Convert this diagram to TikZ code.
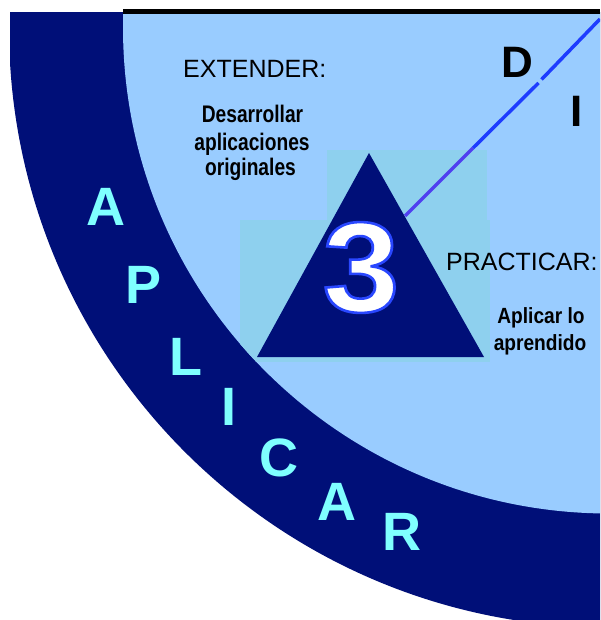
\documentclass[tikz,border=0pt]{standalone}
\usepackage{graphicx}
\usepackage{fontspec}
\setmainfont{Liberation Sans}
\definecolor{ringnavy}{HTML}{000F78}
\definecolor{lightbg}{HTML}{99CCFF}
\definecolor{boxbg}{HTML}{8ED0EE}
\definecolor{letcyan}{HTML}{7FFFFF}
\definecolor{lineblue}{HTML}{1E3CFF}
\definecolor{linepurple}{HTML}{5040F0}
\newcommand\numoutline[1]{\textcolor{white}{%
\special{pdf:literal direct q 2 Tr 2.6 w 0.16 0.28 1 RG 1 1 1 rg}#1\special{pdf:literal direct Q}}}
\newcommand\narrowtext[2]{\scalebox{#1}[1]{#2}}
\tikzset{
  ringletter/.style={text=letcyan, inner sep=0pt, font=\bfseries\fontsize{54}{54}\selectfont},
  diletter/.style={text=black, inner sep=0pt, font=\bfseries\fontsize{44}{44}\selectfont},
  heading/.style={anchor=base west, inner sep=0pt, font=\fontsize{25}{25}\selectfont},
  boldnote/.style={anchor=base, inner sep=0pt, font=\bfseries\fontsize{24}{24}\selectfont},
  connector/.style={line width=3.5pt}
}
\begin{document}
\begin{tikzpicture}[x=1pt,y=-1pt]
\useasboundingbox (0,0) rectangle (600,620);
\clip (0,0) rectangle (600,620);
\fill[white] (0,0) rectangle (600,620);
% dark ring
\begin{scope}
  \clip (10,13) rectangle (600,620);
  \fill[ringnavy] (609,27.5) circle[radius=600pt];
\end{scope}
% light interior with lighter box
\begin{scope}
  \clip (10,14.5) rectangle (600,620);
  \clip (609,27.5) circle[radius=486pt];
  \fill[lightbg] (0,0) rectangle (600,620);
  \fill[boxbg] (327,150) rectangle (487,362);
  \fill[boxbg] (240,220) rectangle (490,362);
\end{scope}
% top black bar
\fill[black] (123,9.5) rectangle (600,14.5);
% triangle
\fill[ringnavy] (257,357) -- (369,153) -- (484,357) -- cycle;
\coordinate (l0) at (405,216);
\coordinate (l1) at (473,148);
\coordinate (l2) at (538.5,83);
\coordinate (l3) at (541.5,79.5);
\coordinate (l4) at (600,19);
\draw[connector, linepurple] (l0) -- (l1);
\draw[connector, lineblue] (l1) -- (l2);
\draw[connector, lineblue] (l3) -- (l4);
% number
\node[inner sep=0pt, font=\bfseries\fontsize{128}{128}\selectfont] (num) at (361,267.5) {\narrowtext{1.08}{\numoutline{3}}};
% headings
\node[heading] (ext) at (183,78) {EXTENDER:};
\node[heading] (prac) at (446,270) {PRACTICAR:};
% notes
\node[boldnote] (n1) at (252.5,123) {\narrowtext{0.8}{Desarrollar}};
\node[boldnote] (n2) at (252,151) {\narrowtext{0.8}{aplicaciones}};
\node[boldnote] (n3) at (250.5,176) {\narrowtext{0.8}{originales}};
\node[boldnote, font=\bfseries\fontsize{22}{22}\selectfont] (n4) at (541,323) {\narrowtext{0.87}{Aplicar lo}};
\node[boldnote, font=\bfseries\fontsize{22}{22}\selectfont] (n5) at (540,350) {\narrowtext{0.87}{aprendido}};
% ring letters
\node[ringletter] (a1) at (106,207) {A};
\node[ringletter] (p1) at (144,285) {P};
\node[ringletter] (l1t) at (186,357) {L};
\node[ringletter] (i1) at (229,407) {I};
\node[ringletter] (c1) at (279,458) {C};
\node[ringletter] (a2) at (337,502) {A};
\node[ringletter] (r1) at (402,532) {R};
% D I
\node[diletter] (d1) at (517.5,62.5) {D};
\node[diletter] (i2) at (576.5,111) {I};
\end{tikzpicture}
\end{document}
